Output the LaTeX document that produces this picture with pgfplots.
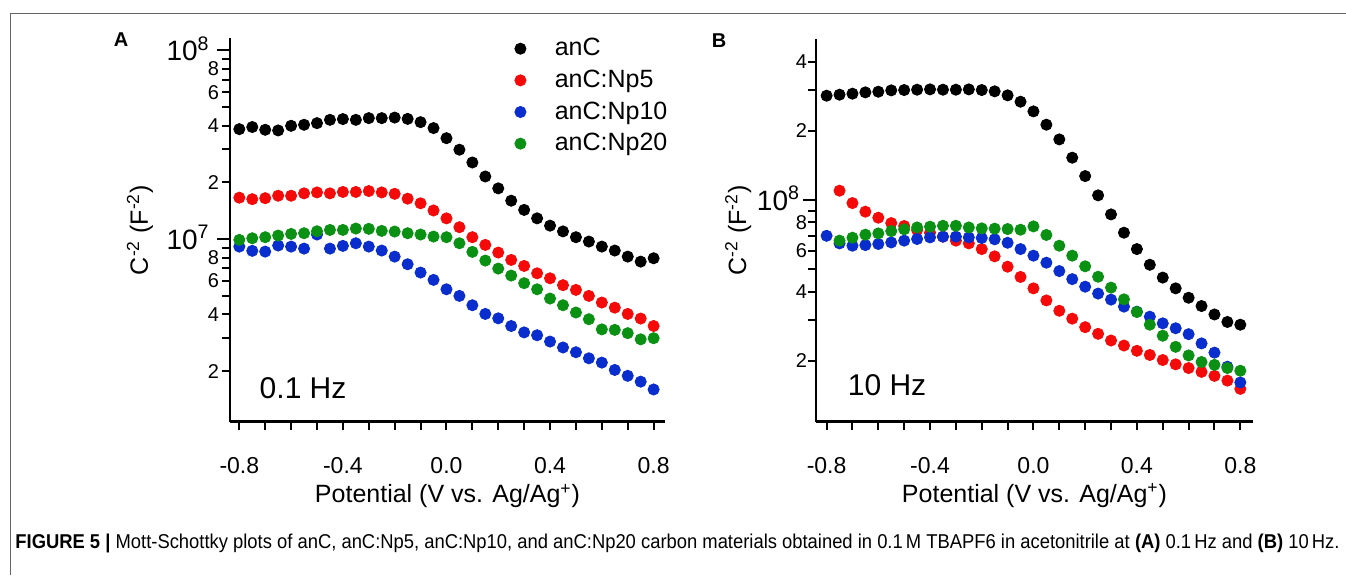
\documentclass[border=0pt]{standalone}
\usepackage{fontspec}
\setmainfont{Liberation Sans}
\usepackage{graphicx}
\usepackage{pgfplots}
\pgfplotsset{compat=1.18}
\usepackage{pgfplotstable}

\definecolor{sred}{RGB}{245,10,10}
\definecolor{sblue}{RGB}{10,45,205}
\definecolor{sgreen}{RGB}{10,145,20}

% 0.1 Hz
\pgfplotstableread{
x     anc      np5      np10     np20
-0.80 3.83e7   1.66e7   9.14e6   9.92e6
-0.75 3.93e7   1.63e7   8.68e6   1.012e7
-0.70 3.80e7   1.65e7   8.60e6   1.025e7
-0.65 3.77e7   1.70e7   9.26e6   1.046e7
-0.60 3.99e7   1.70e7   9.14e6   1.067e7
-0.55 4.04e7   1.75e7   8.92e6   1.076e7
-0.50 4.12e7   1.77e7   1.059e7  1.102e7
-0.45 4.29e7   1.75e7   8.92e6   1.12e7
-0.40 4.33e7   1.78e7   9.22e6   1.12e7
-0.35 4.29e7   1.78e7   9.52e6   1.139e7
-0.30 4.38e7   1.80e7   9.14e6   1.135e7
-0.25 4.38e7   1.77e7   8.71e6   1.107e7
-0.20 4.41e7   1.74e7   8.09e6   1.098e7
-0.15 4.34e7   1.64e7   7.37e6   1.076e7
-0.10 4.17e7   1.55e7   6.66e6   1.059e7
-0.05 3.88e7   1.42e7   6.09e6   1.033e7
0.00  3.43e7   1.29e7   5.43e6   1.025e7
0.05  2.98e7   1.158e7  5.01e6   9.52e6
0.10  2.55e7   1.025e7  4.47e6   8.57e6
0.15  2.15e7   9.33e6   4.02e6   7.71e6
0.20  1.86e7   8.50e6   3.81e6   6.99e6
0.25  1.60e7   7.77e6   3.47e6   6.42e6
0.30  1.43e7   7.22e6   3.21e6   5.85e6
0.35  1.29e7   6.60e6   3.10e6   5.43e6
0.40  1.18e7   6.21e6   2.87e6   4.85e6
0.45  1.10e7   5.71e6   2.67e6   4.47e6
0.50  1.025e7  5.39e6   2.52e6   4.09e6
0.55  9.72e6   5.01e6   2.34e6   3.77e6
0.60  9.14e6   4.62e6   2.22e6   3.33e6
0.65  8.71e6   4.34e6   2.03e6   3.31e6
0.70  8.09e6   4.02e6   1.89e6   3.18e6
0.75  7.61e6   3.80e6   1.76e6   2.95e6
0.80  7.93e6   3.47e6   1.60e6   2.99e6
}\dataA

% 10 Hz
\pgfplotstableread{
x     anc      np5      np10     np20
-0.80 2.842e8  nan      6.99e7   nan
-0.75 2.871e8  1.098e8  6.48e7   6.66e7
-0.70 2.900e8  9.70e7   6.33e7   6.86e7
-0.65 2.939e8  8.90e7   6.37e7   7.07e7
-0.60 2.958e8  8.38e7   6.44e7   7.16e7
-0.55 2.998e8  7.94e7   6.54e7   7.33e7
-0.50 3.008e8  7.71e7   6.66e7   7.46e7
-0.45 3.018e8  7.41e7   6.77e7   7.60e7
-0.40 3.028e8  7.21e7   6.88e7   7.66e7
-0.35 3.018e8  6.93e7   6.93e7   7.73e7
-0.30 3.018e8  6.66e7   6.93e7   7.73e7
-0.25 3.028e8  6.48e7   6.88e7   7.60e7
-0.20 3.008e8  6.12e7   6.84e7   7.53e7
-0.15 2.969e8  5.69e7   6.75e7   7.51e7
-0.10 2.852e8  5.13e7   6.52e7   7.48e7
-0.05 2.676e8  4.63e7   6.12e7   7.43e7
0.00  2.429e8  4.13e7   5.73e7   7.68e7
0.05  2.126e8  3.66e7   5.34e7   7.05e7
0.10  1.835e8  3.30e7   4.91e7   6.33e7
0.15  1.528e8  3.05e7   4.53e7   5.73e7
0.20  1.271e8  2.80e7   4.20e7   5.15e7
0.25  1.048e8  2.62e7   3.92e7   4.64e7
0.30  8.66e7   2.45e7   3.69e7   4.16e7
0.35  7.21e7   2.33e7   3.44e7   3.70e7
0.40  6.12e7   2.21e7   3.27e7   3.26e7
0.45  5.23e7   2.12e7   3.11e7   2.87e7
0.50  4.60e7   2.015e7  2.91e7   2.57e7
0.55  4.13e7   1.93e7   2.77e7   2.30e7
0.60  3.76e7   1.86e7   2.61e7   2.11e7
0.65  3.46e7   1.79e7   2.38e7   1.976e7
0.70  3.18e7   1.72e7   2.17e7   1.92e7
0.75  2.95e7   1.64e7   1.885e7  1.86e7
0.80  2.87e7   1.51e7   1.61e7   1.81e7
}\dataB

\begin{document}
\begin{tikzpicture}
\useasboundingbox (0,0) rectangle (673pt,287.5pt);
\draw[line width=0.5pt, black!60] (5pt,0pt) -- (5pt,281pt) -- (673pt,281pt);

% (A) 0.1 Hz
\begin{axis}[
  at={(115pt,76.65pt)}, anchor=south west,
  scale only axis,
  width=217.5pt, height=191.7pt,
  ymode=log,
  xmin=-0.836, xmax=0.844,
  ymin=1.08e6, ymax=1.16e8,
  axis x line*=bottom,
  axis y line*=left,
  axis line style={-, line width=1.3pt},
  tick align=outside,
  tick style={line width=1pt, black},
  major tick length=6.5pt,
  minor tick length=4pt,
  xtick style={/pgfplots/major tick length=4pt},
  xtick={-0.8,-0.4,0,0.4,0.8},
  xticklabels={-0.8,-0.4,0.0,0.4,0.8},
  minor xtick={-0.7,-0.6,-0.5,-0.3,-0.2,-0.1,0.1,0.2,0.3,0.5,0.6,0.7},
  xticklabel style={font=\fontsize{11.5}{13}\selectfont, yshift=-8pt},
  ytick={1e7,1e8},
  yticklabels={10\textsuperscript{7},10\textsuperscript{8}},
  yticklabel style={font=\fontsize{14}{16}\selectfont, anchor=base east,
    inner sep=0pt, xshift=-3.5pt, yshift=-5pt},
  minor ytick={3e6,5e6,7e6,9e6,3e7,5e7,7e7,9e7},
  extra y ticks={2e6,4e6,6e6,8e6,2e7,4e7,6e7,8e7},
  extra y tick labels={2,4,6,8,2,4,6,8},
  % shifts add up with the ones above
  extra y tick style={
    ytick style={/pgfplots/major tick length=4pt},
    yticklabel style={font=\fontsize{10}{11}\selectfont, anchor=east,
      xshift=4.7pt, yshift=5pt},
  },
  xlabel={Potential (V vs. Ag/Ag\textsuperscript{+})},
  ylabel={C\textsuperscript{-2} (F\textsuperscript{-2})},
  label style={font=\fontsize{12.5}{14}\selectfont},
  xlabel style={at={(axis description cs:0.5,-0.194)}, anchor=center},
  ylabel style={at={(axis description cs:-0.207,0.5)}, anchor=center},
  clip=false,
  legend style={at={(axis description cs:0.652,1.011)}, anchor=north west,
    draw=none, fill=none, inner sep=0pt,
    font=\fontsize{12.5}{14}\selectfont, row sep=1.6pt},
  legend cell align=left,
  legend image code/.code={\draw[#1] plot coordinates {(0pt,0pt)}; \path (-3pt,0pt) (15pt,0pt);},
]
\addplot[only marks, mark=*, mark size=2.8pt, black] table[x=x, y=anc] {\dataA};
\addlegendentry{anC}
\addplot[only marks, mark=*, mark size=2.8pt, sred] table[x=x, y=np5] {\dataA};
\addlegendentry{anC:Np5}
\addplot[only marks, mark=*, mark size=2.8pt, sblue] table[x=x, y=np10] {\dataA};
\addlegendentry{anC:Np10}
\addplot[only marks, mark=*, mark size=2.8pt, sgreen] table[x=x, y=np20] {\dataA};
\addlegendentry{anC:Np20}
\node[anchor=center, font=\fontsize{15}{17}\selectfont] at (axis description cs:0.168,0.088) {0.1 Hz};
\end{axis}

% (B) 10 Hz
\begin{axis}[
  at={(408pt,76.65pt)}, anchor=south west,
  scale only axis,
  width=218.5pt, height=191.2pt,
  ymode=log,
  xmin=-0.841, xmax=0.849,
  ymin=1.087e7, ymax=5.0e8,
  axis x line*=bottom,
  axis y line*=left,
  axis line style={-, line width=1.3pt},
  tick align=outside,
  tick style={line width=1pt, black},
  major tick length=6.5pt,
  minor tick length=4pt,
  xtick style={/pgfplots/major tick length=4pt},
  xtick={-0.8,-0.4,0,0.4,0.8},
  xticklabels={-0.8,-0.4,0.0,0.4,0.8},
  minor xtick={-0.7,-0.6,-0.5,-0.3,-0.2,-0.1,0.1,0.2,0.3,0.5,0.6,0.7},
  xticklabel style={font=\fontsize{11.5}{13}\selectfont, yshift=-8pt},
  ytick={1e8},
  yticklabels={10\textsuperscript{8}},
  yticklabel style={font=\fontsize{14}{16}\selectfont, anchor=base east,
    inner sep=0pt, xshift=-1.3pt, yshift=-5pt},
  minor ytick={3e7,5e7,7e7,9e7,3e8},
  extra y ticks={2e7,4e7,6e7,8e7,2e8,4e8},
  extra y tick labels={2,4,6,8,2,4},
  extra y tick style={
    ytick style={/pgfplots/major tick length=4pt},
    yticklabel style={font=\fontsize{10}{11}\selectfont, anchor=east,
      xshift=3.5pt, yshift=5pt},
  },
  xlabel={Potential (V vs. Ag/Ag\textsuperscript{+})},
  ylabel={C\textsuperscript{-2} (F\textsuperscript{-2})},
  label style={font=\fontsize{12.5}{14}\selectfont},
  xlabel style={at={(axis description cs:0.5,-0.194)}, anchor=center},
  ylabel style={at={(axis description cs:-0.178,0.5)}, anchor=center},
  clip=false,
]
\addplot[only marks, mark=*, mark size=2.8pt, black] table[x=x, y=anc] {\dataB};
\addplot[only marks, mark=*, mark size=2.8pt, sred] table[x=x, y=np5] {\dataB};
\addplot[only marks, mark=*, mark size=2.8pt, sblue] table[x=x, y=np10] {\dataB};
\addplot[only marks, mark=*, mark size=2.8pt, sgreen] table[x=x, y=np20] {\dataB};
\node[anchor=center, font=\fontsize{15}{17}\selectfont] at (axis description cs:0.1625,0.096) {10 Hz};
\end{axis}

\node[font=\bfseries\fontsize{10}{12}\selectfont] at (60.5pt,267.5pt) {A};
\node[font=\bfseries\fontsize{10}{12}\selectfont] at (359.5pt,267pt) {B};

\node[anchor=base west, inner sep=0pt] at (7.5pt,13.5pt) {\resizebox{662pt}{\height}{\fontsize{10}{12}\selectfont
\textbf{FIGURE 5 |} Mott-Schottky plots of anC, anC:Np5, anC:Np10, and anC:Np20 carbon materials obtained in 0.1\,M TBAPF6 in acetonitrile at \textbf{(A)} 0.1\,Hz and \textbf{(B)} 10\,Hz.}};
\end{tikzpicture}
\end{document}
